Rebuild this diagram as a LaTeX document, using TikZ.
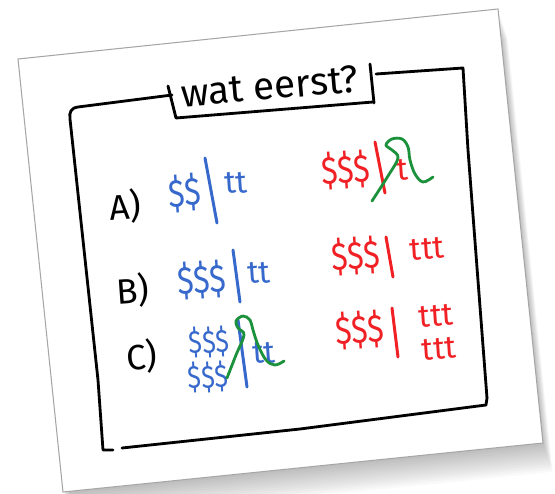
\documentclass[tikz,border=0pt]{standalone}
\usepackage{fontspec}
\setmainfont{Fira Sans}
\usepackage{xcolor}
\usepackage{tikz}

\definecolor{penblue}{RGB}{55,105,205}
\definecolor{penred}{RGB}{240,32,36}
\definecolor{pengreen}{RGB}{28,145,60}

\begin{document}
\begin{tikzpicture}[
	x=0.02cm, y=-0.02cm,
	hand/.style={
		font=\fontsize{#1}{#1}\selectfont,
		inner sep=0pt,
		rotate=4
	},
	cash/.style={
		hand=#1,
		xscale=0.8
	},
	cash/.default=22,
	frame/.style={
		line width=1.6pt,
		line cap=round,
		line join=round
	},
	bar/.style={
		line width=1.7pt,
		line cap=round
	},
	strike/.style={
		pengreen,
		line width=1.6pt,
		line cap=round
	}
	]
	
	\useasboundingbox (0,0) rectangle (555,494);
	
	% Paper with shadow
	\foreach \s in {1,...,12}
	\fill[black, opacity=0.025, shift={(\s*0.8,\s*2.4)}]
	(18,59) -- (498,9) -- (543,443) -- (63,492) -- cycle;
	\fill[white] (18,59) -- (498,9) -- (543,443) -- (63,492) -- cycle;
	\draw[black!35, line width=0.6pt]
	(18,59) -- (498,9) -- (543,443) -- (63,492) -- cycle;
	
	% Frame around the question
	\draw[frame] (172,95) -- (78,107)
	.. controls (71,108) and (69,112) .. (70,119)
	-- (98,380) -- (103,450) -- (113,450);
	\draw[frame] (122,448) -- (300,429) -- (486,405) -- (487,398);
	\draw[frame] (487,398) -- (468,150) -- (463,68) -- (376,74);
	
	% Title box
	\draw[frame] (168,86) -- (176,118) -- (373,102);
	\draw[frame] (370,64) -- (374,103);
	\node[hand=22, rotate=1] (title) at (270,86) {wat eerst?};
	
	% Row labels
	\node[hand=20] (label_a) at (125,207) {A)};
	\node[hand=20] (label_b) at (133,291) {B)};
	\node[hand=20] (label_c) at (142,357) {C)};
	
	% Row A
	\node[cash, penblue] (a_blue_cash) at (185,193) {\$\$};
	\draw[bar, penblue] (205,158) -- (217,223);
	\node[hand=18, penblue] (a_blue_t) at (236,183) {tt};
	
	\node[cash, penred] (a_red_cash) at (346,170) {\$\$\$};
	\draw[bar, penred] (375,142) -- (385,193);
	\node[hand=18, penred] (a_red_t) at (402,170) {t};
	\draw[strike] plot[smooth, tension=0.6] coordinates {
		(372,201) (388,176) (398,158) (392,150) (386,145) (392,139)
		(402,139) (408,147) (410,160) (415,174) (423,182) (433,177)};
	
	% Row B
	\node[cash, penblue] (b_blue_cash) at (202,280) {\$\$\$};
	\draw[bar, penblue] (233,250) -- (240,302);
	\node[hand=18, penblue] (b_blue_t) at (259,273) {tt};
	
	\node[cash, penred] (b_red_cash) at (356,256) {\$\$\$};
	\draw[bar, penred] (386,237) -- (393,277);
	\node[hand=18, penred] (b_red_t) at (427,249) {ttt};
	
	% Row C
	\node[cash=18, penblue] (c_blue_cash_top) at (209,342) {\$\$\$};
	\node[cash=18, penblue] (c_blue_cash_bottom) at (208,377) {\$\$\$};
	\draw[bar, penblue] (238,320) -- (247,387);
	\node[hand=18, penblue] (c_blue_t) at (264,353) {tt};
	\draw[strike] plot[smooth, tension=0.6] coordinates {
		(227,378) (236,355) (244,335) (238,328) (236,321) (243,316)
		(250,320) (253,330) (258,345) (266,360) (275,365) (284,361)};
	
	\node[cash, penred] (c_red_cash) at (360,330) {\$\$\$};
	\draw[bar, penred] (392,308) -- (398,357);
	\node[hand=18, penred] (c_red_t_top) at (436,316) {ttt};
	\node[hand=18, penred] (c_red_t_bottom) at (439,349) {ttt};
	
\end{tikzpicture}
\end{document}
